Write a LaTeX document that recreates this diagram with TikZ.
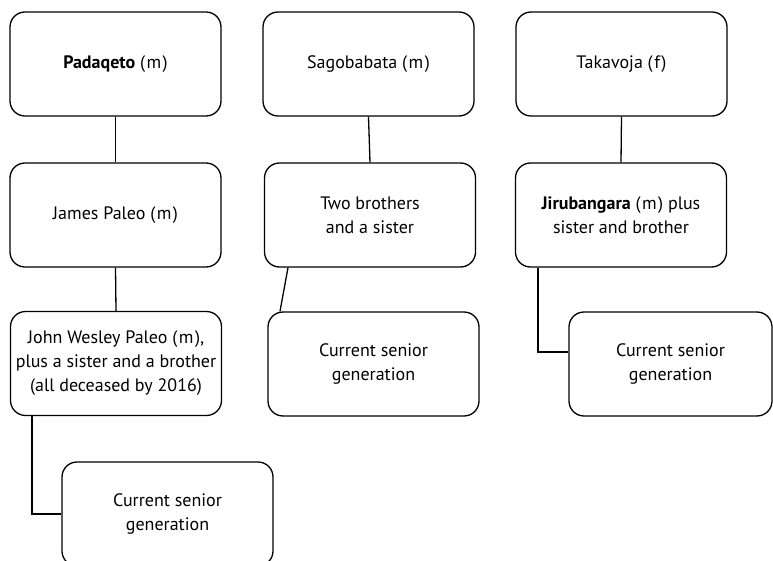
\documentclass[tikz,border=0pt]{standalone}
\usepackage{fontspec}
\setmainfont{PT Sans}
\tikzset{
  famb/.style={draw, line width=1.3pt, rounded corners=15pt, minimum width=211pt, minimum height=104pt, align=center, inner sep=0pt, font=\fontsize{18}{24}\selectfont},
  link/.style={line width=1.3pt}
}
\newcommand{\sx}[1]{(\kern1.5pt #1\kern1.5pt)}
\begin{document}
\begin{tikzpicture}[x=1pt,y=-1pt]
\clip (0,0) rectangle (773,561);
\useasboundingbox (0,0) rectangle (773,561);
\node[famb] (p1) at (115.5,64) {\textbf{Padaqeto} \sx{m}};
\node[famb] (p2) at (115.5,215) {James Paleo \sx{m}};
\node[famb] (p3) at (116,363.5) {John Wesley Paleo \sx{m},\\plus a sister and a brother\\(all deceased by 2016)};
\node[famb] (p4) at (167.5,514) {Current senior\\generation};
\node[famb] (s1) at (368.5,64) {Sagobabata \sx{m}};
\node[famb] (s2) at (370,215) {Two brothers\\ and a sister};
\node[famb] (s3) at (373.5,364) {Current senior\\generation};
\node[famb] (t1) at (621.5,64) {Takavoja \sx{f}};
\node[famb] (t2) at (621,215) {\textbf{Jirubangara} \sx{m} plus\\sister and brother};
\node[famb, minimum width=203pt] (t3) at (670.5,364) {Current senior\\generation};
\draw[link] (p1.south) -- (p2.north);
\draw[link] (p2.south) -- (p3.north);
\draw[link] ([xshift=-84pt]p3.south) |- (p4.west);
\draw[link] (s1.south) -- (s2.north);
\draw[link] ([xshift=-82pt]s2.south) -- ([xshift=-93.5pt]s3.north);
\draw[link] (t1.south) -- (t2.north);
\draw[link] ([xshift=-83pt]t2.south) |- ([yshift=12pt]t3.west);
\end{tikzpicture}
\end{document}
